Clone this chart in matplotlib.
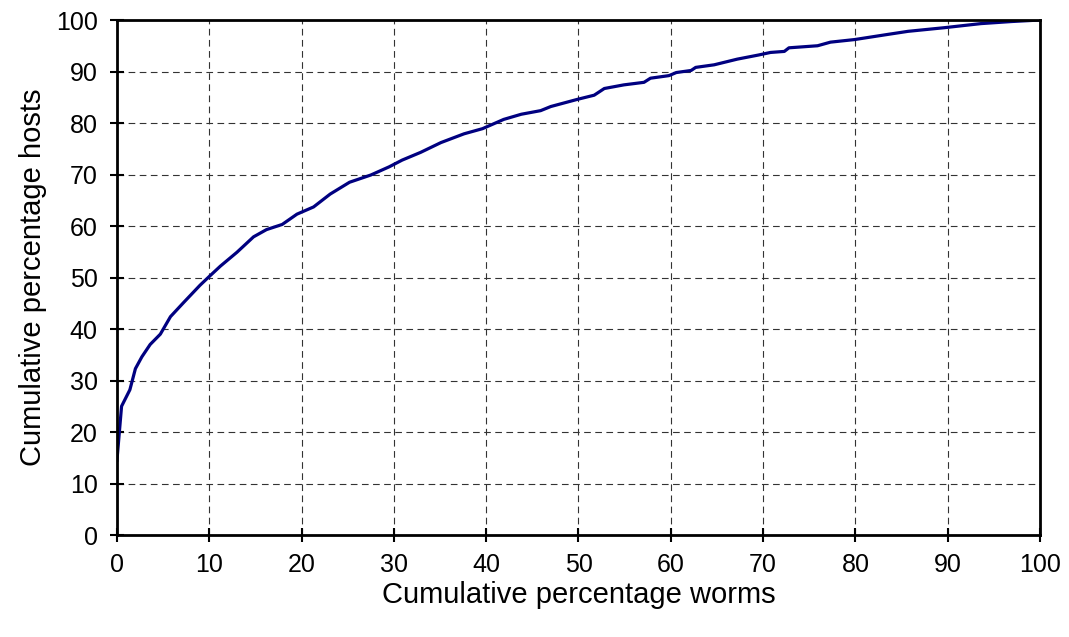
import numpy as np
import matplotlib
matplotlib.use("Agg")
import matplotlib.pyplot as plt

# values
worms_pct = [0, 0.5, 1.4, 2.0, 2.7, 3.6, 4.7, 5.8, 7.2, 9.0, 10.0, 11.2, 13.0,
             14.8, 16.2, 17.9, 19.5, 21.3, 23.1, 25.2, 27.5, 29.5, 30.9, 32.9,
             35.1, 37.6, 39.6, 41.9, 43.8, 45.9, 47.0, 49.9, 51.7, 52.8, 54.9,
             57.1, 57.8, 59.8, 60.6, 62.2, 62.7, 64.7, 67.2, 69.5, 70.8, 72.3,
             72.8, 75.9, 77.3, 79.9, 83.5, 85.7, 89.6, 93.6, 96.9, 100]
hosts_pct = [14.5, 25.0, 28.2, 32.3, 34.6, 37.0, 39.0, 42.4, 45.1, 48.5, 50.2,
             52.2, 54.9, 57.9, 59.3, 60.3, 62.3, 63.7, 66.2, 68.5, 69.9, 71.5,
             72.8, 74.3, 76.2, 77.9, 78.9, 80.7, 81.7, 82.4, 83.2, 84.6, 85.4,
             86.7, 87.4, 87.9, 88.7, 89.2, 89.8, 90.2, 90.8, 91.3, 92.4, 93.2,
             93.7, 93.9, 94.6, 95.0, 95.7, 96.2, 97.2, 97.8, 98.5, 99.3, 99.7,
             100]

xticks = list(range(0, 101, 10))
yticks = list(range(0, 101, 10))

plt.rcParams['font.family'] = ['Liberation Sans', 'DejaVu Sans']

fig = plt.figure(figsize=(10.69, 6.37), dpi=100)
ax = fig.add_axes([0.1094, 0.1601, 0.8635, 0.8085])

ax.plot(worms_pct, hosts_pct, color='#000080', linewidth=2.3,
        solid_joinstyle='round')

ax.set_xlim(0, 100)
ax.set_ylim(0, 100)
ax.set_xticks(xticks)
ax.set_yticks(yticks)
ax.tick_params(direction='inout', length=10, width=1.5, labelsize=18,
               colors='black')
ax.tick_params(axis='x', pad=8)
ax.tick_params(axis='y', pad=9)
ax.grid(True, color='#333333', linestyle=(0, (6, 4)), linewidth=0.8)

for s in ax.spines.values():
    s.set_linewidth(2.0)
    s.set_color('black')

ax.set_xlabel("Cumulative percentage worms", fontsize=21, labelpad=3)
ax.set_ylabel("Cumulative percentage hosts", fontsize=21, labelpad=6)

fig.savefig("out.png", dpi=100)
